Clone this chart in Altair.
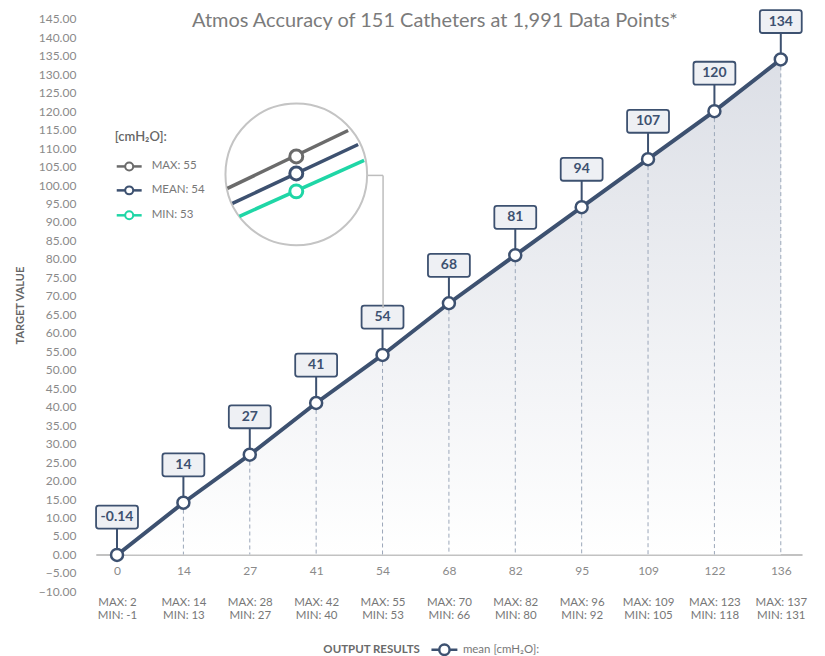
import altair as alt
import pandas as pd

# ---------------- data ----------------
x_labels = ["0", "14", "27", "41", "54", "68", "82", "95", "109", "122", "136"]
mean_vals = [-0.14, 14, 27, 41, 54, 68, 81, 94, 107, 120, 134]
max_vals = [2, 14, 28, 42, 55, 70, 82, 96, 109, 123, 137]
min_vals = [-1, 13, 27, 40, 53, 66, 80, 92, 105, 118, 131]
y_ticks = list(range(-10, 150, 5))
series_name = "mean [cmH₂O]:"
inset_title = "[cmH₂O]:"
inset_items = ["MAX: 55", "MEAN: 54", "MIN: 53"]
title_text = "Atmos Accuracy of 151 Catheters at 1,991 Data Points*"

df = pd.DataFrame({
    "x": x_labels,
    "mean": mean_vals,
    "label": [f"{v:g}" for v in mean_vals],
    "series": series_name,
})
one = pd.DataFrame({"k": [0]})

# ---------------- styling ----------------
FONT = "Lato"
DARK = "#3d5170"
GRAY = "#6b6b6b"
TEAL = "#1fd6a6"
W, H = 708, 574
OX, OY = 96, 18  # plot origin on the page

mm_expr = "[" + ",".join(f"['MAX: {a}','MIN: {b}']" for a, b in zip(max_vals, min_vals)) + "]"
idx_expr = "[" + ",".join(f"'{l}'" for l in x_labels) + "]"
label_expr2 = f"{mm_expr}[indexof({idx_expr}, datum.label)]"

xscale = alt.Scale(type="point", padding=0.32)
ax1 = alt.Axis(orient="bottom", offset=-37, domain=True, domainColor="#c2c2c2", domainWidth=2,
               ticks=False, tickSize=0, labelPadding=11, labelFontSize=12, labelColor="#8a8a8a",
               labelAngle=0, labelFont=FONT, title=None, grid=False)
ax2 = alt.Axis(orient="bottom", offset=0, domain=False, ticks=False, tickSize=0, labelPadding=5,
               labelFontSize=11.5, labelColor="#777777", labelAngle=0, labelFont=FONT,
               labelLineHeight=13, labelExpr=label_expr2, grid=False,
               title="OUTPUT RESULTS", titleX=372 - OX, titleY=650 - OY - H, titleAlign="center",
               titleBaseline="middle", titleFontSize=11.5, titleFontWeight="bold", titleColor="#6a6a6a",
               titleFont=FONT)
x1 = alt.X("x:N", sort=None, scale=xscale, axis=ax1)
x2 = alt.X("x:N", sort=None, scale=xscale, axis=ax2)
xn = alt.X("x:N", sort=None, scale=xscale, axis=None)

yaxis = alt.Axis(values=y_ticks, format=".2f", grid=False, domain=False, ticks=False, tickSize=0,
                 labelPadding=20, labelColor="#8a8a8a", labelFontSize=12, labelFont=FONT,
                 title="TARGET VALUE", titleFontSize=11, titleFontWeight="bold", titleColor="#666666",
                 titlePadding=13, titleFont=FONT)
yenc = alt.Y("mean:Q", scale=alt.Scale(domain=[-10, 145], nice=False, zero=False), axis=yaxis)

base = alt.Chart(df)

gradient = alt.Gradient(gradient="linear",
                        stops=[alt.GradientStop(color="#dcdfe6", offset=0),
                               alt.GradientStop(color="#ffffff", offset=1)],
                        x1=1, x2=1, y1=0, y2=1)

area = base.mark_area(color=gradient).encode(x=x1, y=yenc, y2=alt.datum(0))
dashed = base.mark_rule(color="#9ba7b9", strokeDash=[4, 3], strokeWidth=1).encode(
    x=x2, y=yenc, y2=alt.datum(0))

LEG_PATH = "M-1,0L-0.4,0M0.4,0L1,0M0.4,0A0.4,0.4,0,1,1,-0.4,0A0.4,0.4,0,1,1,0.4,0Z"
line = base.mark_line(strokeWidth=4).encode(
    x=xn, y=yenc,
    color=alt.Color("series:N", scale=alt.Scale(range=[DARK]),
                    legend=alt.Legend(orient="none", legendX=431 - OX, legendY=649 - OY - 13,
                                      title=None, symbolType=LEG_PATH, symbolSize=26 * 26,
                                      symbolStrokeWidth=2.5, symbolFillColor="white",
                                      symbolStrokeColor=DARK, labelFont=FONT, labelFontSize=11.5,
                                      labelColor="#777777", labelOffset=4, padding=0)))
connector = base.mark_rule(color=DARK, strokeWidth=2, yOffset=-27).encode(
    x=xn, y=yenc, y2=alt.Y2("mean:Q"))

BOX_PATH = ("M-0.88,-0.548L0.88,-0.548Q1,-0.548,1,-0.428L1,0.428Q1,0.548,0.88,0.548"
            "L-0.88,0.548Q-1,0.548,-1,0.428L-1,-0.428Q-1,-0.548,-0.88,-0.548Z")
boxes = base.mark_point(shape=BOX_PATH, size=42 * 42, filled=True, fill="#eef0f4", stroke=DARK,
                        strokeWidth=1.8, opacity=1, yOffset=-38).encode(x=xn, y=yenc)
box_text = base.mark_text(dy=-38, fontSize=14, fontWeight="bold", color=DARK, font=FONT,
                          baseline="middle").encode(x=xn, y=yenc, text="label:N")
points = base.mark_point(shape="circle", size=144, filled=True, fill="white", stroke=DARK,
                         strokeWidth=2.5, opacity=1).encode(x=xn, y=yenc)

# ---------------- decorations ----------------
deco = []
d = alt.Chart(one)


def V(px, py):
    return dict(x=alt.value(px - OX), y=alt.value(py - OY))


def seg(xa, ya, xb, yb, color, w, cap="butt"):
    return d.mark_rule(color=color, strokeWidth=w, strokeCap=cap).encode(
        x=alt.value(xa - OX), x2=alt.value(xb - OX), y=alt.value(ya - OY), y2=alt.value(yb - OY))


def ring(px, py, r, color, w):
    return d.mark_point(shape="circle", size=(2 * r) ** 2, filled=True, fill="white", stroke=color,
                        strokeWidth=w, opacity=1).encode(**V(px, py))


deco.append(d.mark_text(text=title_text, fontSize=20, color="#7b7b7b", font=FONT, align="center",
                        baseline="middle").encode(**V(436, 20)))
# magnifier callout
deco.append(seg(368, 175, 384, 175, "#bdbdbd", 1.5))
deco.append(seg(384, 175, 384, 308, "#bdbdbd", 1.5))
deco.append(d.mark_point(shape="circle", size=142 ** 2, filled=True, fill="white", stroke="#c4c4c4",
                         strokeWidth=2, opacity=1).encode(**V(297, 174)))
deco.append(seg(228, 188, 349, 130, GRAY, 3.5))
deco.append(seg(233, 203, 359, 144, DARK, 3.5))
deco.append(seg(240, 216, 365, 160, TEAL, 3.5))
deco.append(ring(297, 156, 6.5, GRAY, 3))
deco.append(ring(297, 173, 6.5, DARK, 3))
deco.append(ring(297, 191, 6.5, TEAL, 3))
# inset legend
deco.append(d.mark_text(text=inset_title, fontSize=13, fontWeight=600, color="#666666", font=FONT,
                        align="left", baseline="middle").encode(**V(115, 137)))
for name, col, yy in zip(inset_items, [GRAY, DARK, TEAL], [166, 190, 215]):
    deco.append(seg(117, yy, 142, yy, col, 2.5))
    deco.append(ring(129.5, yy, 4, col, 2))
    deco.append(d.mark_text(text=name, fontSize=11.5, color="#777777", font=FONT, align="left",
                            baseline="middle").encode(**V(152, yy)))

chart = alt.layer(area, dashed, line, connector, boxes, box_text, points, *deco).resolve_axis(
    x="independent"
).properties(
    width=W, height=H, autosize="none",
    padding={"left": OX - 8, "top": OY - 8, "right": 15, "bottom": 80},
).configure_view(stroke=None).configure_text(font=FONT)

chart.save("out.html", embed_options={"renderer": "svg", "actions": False})
